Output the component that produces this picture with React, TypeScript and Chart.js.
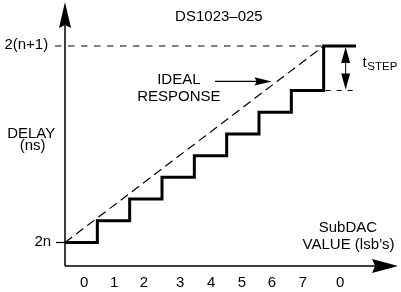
import React, { useEffect, useRef } from 'react';
import { Chart, registerables } from 'chart.js';

Chart.register(...registerables);

// ---- data (x = SubDAC code slot, y = delay in step units; 2n = 0) ----
const subdacCodes = ['0', '1', '2', '3', '4', '5', '6', '7', '0'];
const codeLabelPos = [0.59, 1.52, 2.44, 3.56, 4.52, 5.47, 6.4, 7.36, 8.51];
const stepLevels = [0, 1, 2, 3, 4, 5, 6, 7, 9.05];
const idealX = [0, 8];
const idealY = [0, 9.05];
const delayTickLabels = ['2n', '2(n+1)'];
const delayTickValues = [0, 9.05];
const tStepRange = [7, 9.05];

const FONT = '"Liberation Sans", Arial, Helvetica, sans-serif';

function arrowHead(ctx: CanvasRenderingContext2D, tx: number, ty: number, dx: number, dy: number, len: number, hw: number, notch: number) {
  const nx = -dy, ny = dx;
  const bx = tx - dx * len, by = ty - dy * len;
  ctx.beginPath();
  ctx.moveTo(tx, ty);
  ctx.lineTo(bx + nx * hw, by + ny * hw);
  ctx.lineTo(bx + dx * notch, by + dy * notch);
  ctx.lineTo(bx - nx * hw, by - ny * hw);
  ctx.closePath();
  ctx.fill();
}

const overlay = {
  id: 'overlay',
  afterDatasetsDraw(chart: any) {
    const { ctx } = chart;
    const xs = chart.scales.x, ys = chart.scales.y;
    const px = (v: number) => xs.getPixelForValue(v);
    const py = (v: number) => ys.getPixelForValue(v);
    ctx.save();
    ctx.strokeStyle = '#000';
    ctx.fillStyle = '#000';

    // axes
    const x0 = px(0), yAxisBottom = py(-1.08), yAxisTop = py(11.08), xAxisEnd = px(10.3);
    ctx.lineWidth = 1.5;
    ctx.setLineDash([]);
    ctx.beginPath();
    ctx.moveTo(x0, yAxisBottom);
    ctx.lineTo(x0, yAxisTop + 10);
    ctx.moveTo(x0, yAxisBottom);
    ctx.lineTo(xAxisEnd - 10, yAxisBottom);
    ctx.stroke();
    arrowHead(ctx, x0, yAxisTop, 0, -1, 26, 6, 3);
    arrowHead(ctx, xAxisEnd, yAxisBottom, 1, 0, 26, 7, 3);

    // y tick marks
    ctx.lineWidth = 1.2;
    ctx.beginPath();
    ctx.moveTo(px(-0.28), py(delayTickValues[0]));
    ctx.lineTo(x0, py(delayTickValues[0]));
    ctx.stroke();

    // dashed reference lines
    ctx.setLineDash([6.5, 6.5]);
    ctx.beginPath();
    ctx.moveTo(px(-0.31), py(delayTickValues[1]));
    ctx.lineTo(px(8), py(delayTickValues[1]));
    ctx.stroke();
    ctx.setLineDash([5, 6]);
    ctx.beginPath();
    ctx.moveTo(px(8) + 2, py(tStepRange[0]));
    ctx.lineTo(px(9), py(tStepRange[0]));
    ctx.stroke();
    ctx.setLineDash([]);

    // tSTEP double arrow
    const ax = px(8.68);
    const aTop = py(tStepRange[1]) + 1, aBot = py(tStepRange[0]) - 1;
    ctx.lineWidth = 1;
    ctx.beginPath();
    ctx.moveTo(ax, aTop + 10);
    ctx.lineTo(ax, aBot - 10);
    ctx.stroke();
    arrowHead(ctx, ax, aTop, 0, -1, 16, 4.5, 0);
    arrowHead(ctx, ax, aBot, 0, 1, 16, 4.5, 0);

    // IDEAL RESPONSE pointer
    const iy = py(7.42), ix0 = px(4.64), ix1 = px(6.39);
    ctx.lineWidth = 1.2;
    ctx.beginPath();
    ctx.moveTo(ix0, iy);
    ctx.lineTo(ix1 - 8, iy);
    ctx.stroke();
    arrowHead(ctx, ix1, iy, 1, 0, 17, 4.2, 2);

    // texts
    ctx.textBaseline = 'alphabetic';
    ctx.font = `15px ${FONT}`;
    ctx.textAlign = 'center';
    ctx.fillText('DS1023\u2013025', px(4.76), py(10.22));
    ctx.fillText('IDEAL', px(3.52), py(7.3));
    ctx.fillText('RESPONSE', px(3.52), py(6.52));
    ctx.fillText('DELAY', px(-1.045), py(4.83));
    ctx.fillText('(ns)', px(-1.0), py(4.25));
    ctx.fillText('SubDAC', px(8.75), py(0.48));
    ctx.fillText("VALUE (lsb\u2019s)", px(8.77), py(-0.31));
    subdacCodes.forEach((c, i) => ctx.fillText(c, px(codeLabelPos[i]), py(-2.04)));

    ctx.textAlign = 'right';
    ctx.fillText(delayTickLabels[0], px(-0.43), py(-0.16));
    ctx.fillText(delayTickLabels[1], px(-0.52), py(8.89));

    ctx.textAlign = 'left';
    const tx = px(9.2), tyb = py(8.08);
    ctx.fillText('t', tx, tyb);
    ctx.font = `11.5px ${FONT}`;
    ctx.fillText('STEP', tx + 4.8, tyb + 3);
    ctx.restore();
  },
};

export default function App() {
  const ref = useRef<HTMLCanvasElement>(null);
  useEffect(() => {
    if (!ref.current) return;
    const stairs = stepLevels.map((y, i) => ({ x: i, y }));
    stairs.push({ x: stepLevels.length, y: stepLevels[stepLevels.length - 1] });
    const ideal = idealX.map((x, i) => ({ x, y: idealY[i] }));
    const chart = new Chart(ref.current, {
      type: 'line',
      data: {
        datasets: [
          {
            data: stairs,
            borderColor: '#000',
            borderWidth: 3,
            stepped: 'before',
            pointRadius: 0,
            fill: false,
            borderJoinStyle: 'miter',
            borderCapStyle: 'butt',
            clip: false,
          } as any,
          {
            data: ideal,
            borderColor: '#000',
            borderWidth: 1.2,
            borderDash: [9, 5],
            pointRadius: 0,
            fill: false,
            clip: false,
          } as any,
        ],
      },
      options: {
        animation: false,
        responsive: false,
        devicePixelRatio: 1,
        events: [],
        layout: { padding: { left: 65, right: 45, top: 46, bottom: 49.5 } },
        scales: {
          x: { type: 'linear', min: 0, max: 9, display: false },
          y: { type: 'linear', min: 0, max: 9.05, display: false },
        },
        plugins: { legend: { display: false }, tooltip: { enabled: false } },
      },
      plugins: [overlay],
    });
    return () => chart.destroy();
  }, []);
  return (
    <div style={{ position: 'absolute', left: 0, top: 0, width: 401, height: 292, background: '#fff' }}>
      <canvas ref={ref} width={401} height={292} style={{ display: 'block' }} />
    </div>
  );
}
